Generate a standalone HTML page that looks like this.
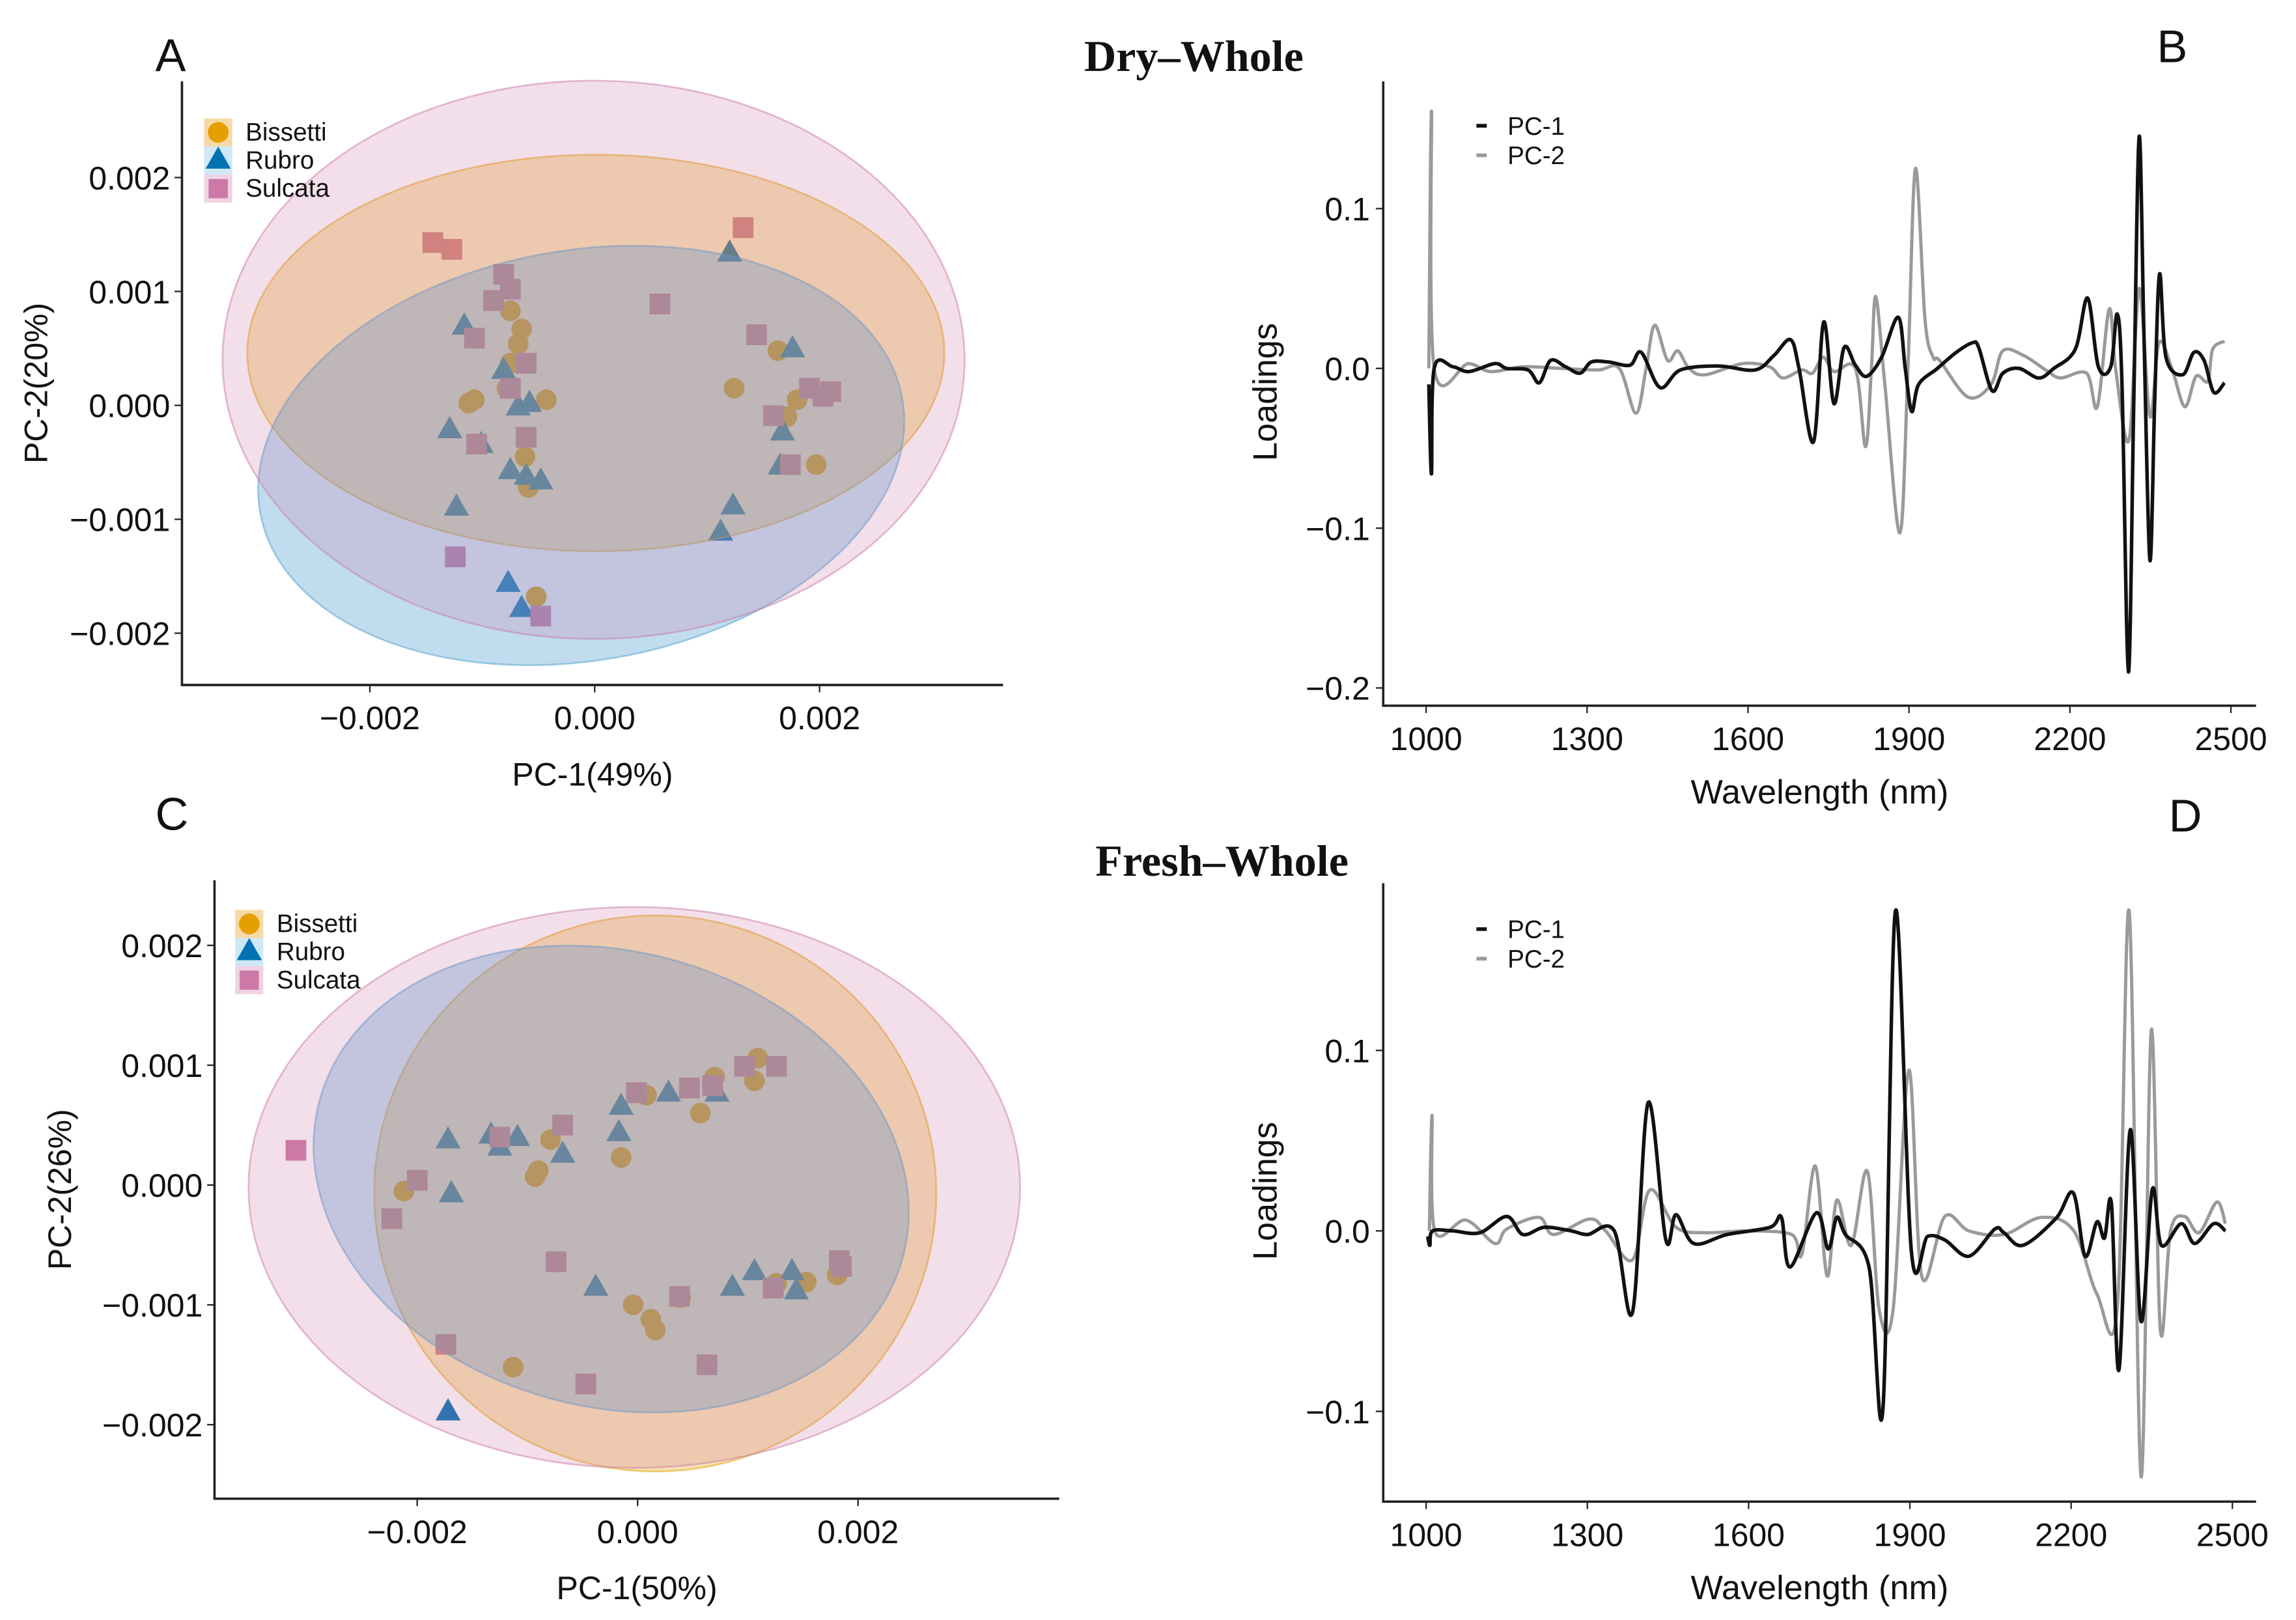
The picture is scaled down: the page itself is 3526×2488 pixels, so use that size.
<!DOCTYPE html>
<html><head><meta charset="utf-8"><style>
html,body{margin:0;padding:0;background:#fff;}
svg{display:block;}
text{font-family:"Liberation Sans",Arial,sans-serif;fill:#111;}
</style></head><body>
<svg id="fig" width="3526" height="2488" viewBox="0 0 1552 1095" preserveAspectRatio="none" xmlns="http://www.w3.org/2000/svg">
<rect width="1552" height="1095" fill="#fff"/>
<text x="105" y="48" font-size="31">A</text>
<text x="1458" y="42" font-size="31">B</text>
<text x="105" y="561" font-size="31">C</text>
<text x="1466" y="562" font-size="31">D</text>
<text x="807" y="48" font-size="30" font-weight="bold" text-anchor="middle" style="font-family:'Liberation Serif',serif">Dry–Whole</text>
<text x="826" y="592" font-size="30" font-weight="bold" text-anchor="middle" style="font-family:'Liberation Serif',serif">Fresh–Whole</text>
<g id="gA"></g><g id="gB"></g><g id="gC"></g><g id="gD"></g>
</svg>
<script>
// ---------- PCA data: Dry-Whole (A) ----------
const aBisX=[-0.00065,-0.00075,-0.00107,-0.00078,-0.00068,-0.00043,-0.00059,-0.00052,0.00163,0.00124,0.0018,0.00197,0.00171,-0.00075,-0.00112,-0.00062];
const aBisY=[0.00067,0.00037,0.00005,0.00015,0.00054,0.00005,-0.00072,-0.00168,0.00048,0.00015,0.00005,-0.00052,-0.0001,0.00083,0.00002,-0.00045];
const aRubX=[-0.00116,-0.00081,-0.00068,-0.00129,-0.00101,-0.00075,-0.00061,-0.00048,-0.00123,-0.00077,-0.00065,0.0012,0.00176,0.00167,0.00165,0.00123,0.00112,-0.00058];
const aRubY=[0.0007,0.00031,-0.00001,-0.00021,-0.00034,-0.00057,-0.00062,-0.00066,-0.00089,-0.00156,-0.00178,0.00134,0.0005,-0.00023,-0.00053,-0.00088,-0.00111,0.00002];
const aSulX=[-0.00144,-0.00127,-0.00081,-0.0009,-0.00075,-0.00107,-0.00061,-0.00075,-0.00105,-0.00061,-0.00124,-0.00048,0.00058,0.00132,0.00144,0.00159,0.00174,0.00191,0.0021,0.00203];
const aSulY=[0.00143,0.00137,0.00115,0.00092,0.00102,0.00059,0.00037,0.00015,-0.00034,-0.00028,-0.00133,-0.00185,0.00089,0.00156,0.00062,-0.00009,-0.00052,0.00015,0.00012,0.00008];
// ellipses: cx, cy, rx, ry (data units), rotation deg
const aEllPink=[-0.00001,0.0004,0.0033,0.00245,0];
const aEllOrange=[0.00001,0.00046,0.0031,0.00174,0];
const aEllBlue=[-0.00012,-0.00044,0.0029,0.0018,-10];
// ---------- PCA data: Fresh-Whole (C) ----------
const cBisX=[-0.00212,-0.00079,-0.00093,-0.00015,0.00008,0.0007,0.00106,0.00109,-0.00004,0.00012,0.00016,0.00039,-0.00113,0.00126,0.00153,0.00181,-0.0009,0.00057];
const cBisY=[-0.00005,0.00038,0.00007,0.00023,0.00075,0.0009,0.00087,0.00106,-0.001,-0.00112,-0.00121,-0.00094,-0.00152,-0.00082,-0.00081,-0.00075,0.00012,0.0006];
const cRubX=[-0.00172,-0.00169,-0.00133,-0.00109,-0.00068,-0.00017,-0.00015,0.00028,0.00072,-0.00038,0.00086,0.00106,0.0014,0.00144,-0.00172,-0.00125];
const cRubY=[0.00038,-0.00007,0.00042,0.0004,0.00026,0.00044,0.00066,0.00077,0.00077,-0.00085,-0.00085,-0.00072,-0.00072,-0.00088,-0.00189,0.00032];
const cSulX=[-0.0031,-0.00223,-0.002,-0.00125,-0.00068,-0.00001,0.00047,0.00068,0.00097,0.00126,-0.00074,-0.00174,-0.00047,0.00063,0.00123,0.00183,0.00038,0.00185];
const cSulY=[0.00029,-0.00028,0.00004,0.0004,0.0005,0.00077,0.00081,0.00083,0.00099,0.00099,-0.00064,-0.00133,-0.00166,-0.0015,-0.00086,-0.00063,-0.00093,-0.00068];
const cEllPink=[-0.00003,-0.00002,0.0035,0.00234,0];
const cEllOrange=[0.00016,-0.00007,0.00255,0.00232,0];
const cEllBlue=[-0.00024,0.00005,0.00274,0.0019,15];
const pcaTicks=[-0.002,-0.001,0,0.001,0.002];
const pcaTickLabels=["−0.002","−0.001","0.000","0.001","0.002"];
// ---------- Loadings: Dry-Whole (B) ----------
const bWl1=[1005,1010,1015,1050,1080,1128,1150,1190,1211,1232,1260,1287,1308,1340,1380,1401,1436,1474,1544,1613,1648,1679,1695,1722,1741,1760,1779,1800,1821,1849,1880,1893,1905,1918,1953,1988,2018,2030,2055,2075,2105,2142,2170,2210,2233,2253,2276,2288,2297,2309,2319,2329,2338,2349,2358,2367,2379,2410,2431,2450,2468,2488];
const bPc1=[-0.01,-0.066,0,0.001,-0.002,0.003,0,-0.001,-0.009,0.005,0.001,-0.003,0.004,0.004,0.002,0.01,-0.012,-0.001,0.0015,-0.001,0.008,0.018,0,-0.046,0.029,-0.022,0.013,0.002,-0.005,0.007,0.032,0,-0.027,-0.01,0,0.01,0.016,0.013,-0.014,-0.003,0,-0.006,0,0.012,0.044,0.001,0.001,0.034,-0.01,-0.19,-0.02,0.145,0.02,-0.12,-0.02,0.059,0.007,-0.004,0.01,0.005,-0.015,-0.009];
const bWl2=[1005,1010,1015,1079,1120,1180,1250,1320,1360,1391,1410,1426,1450,1469,1490,1520,1590,1640,1665,1700,1720,1740,1760,1800,1819,1830,1838,1855,1883,1898,1912,1930,1945,1957,2010,2053,2075,2114,2157,2183,2231,2251,2273,2285,2310,2329,2349,2366,2390,2414,2435,2457,2466,2488];
const bPc2=[0,0.161,0,0.003,-0.002,0.001,0,-0.001,0,-0.028,0,0.027,0.005,0.011,0,-0.004,0.003,0.001,-0.006,-0.001,-0.003,0.007,-0.002,0,-0.049,0,0.045,-0.01,-0.103,0,0.125,0.03,0.007,0.005,-0.018,-0.01,0.011,0.008,-0.0015,-0.006,-0.003,-0.024,0.037,0,-0.045,0.05,-0.03,0.016,0,-0.024,-0.005,-0.008,0.012,0.017];
// ---------- Loadings: Fresh-Whole (D) ----------
const dWl1=[1003,1007,1012,1050,1100,1150,1180,1220,1270,1300,1350,1384,1413,1446,1465,1498,1560,1640,1661,1677,1726,1748,1764,1780,1824,1850,1873,1903,1933,1965,2010,2058,2075,2110,2172,2204,2226,2248,2262,2275,2289,2310,2330,2351,2368,2405,2430,2465,2487];
const dPc1=[-0.003,-0.008,0,0,-0.001,0.008,-0.002,0.002,0,-0.002,0,-0.045,0.071,-0.005,0.009,-0.007,-0.002,0.002,0.0075,-0.02,0.01,-0.01,0.0075,-0.002,-0.02,-0.098,0.177,-0.012,-0.003,-0.005,-0.014,0.001,-0.001,-0.008,0.007,0.021,-0.014,0.005,-0.004,0.015,-0.077,0.056,-0.05,0.023,-0.008,0.004,-0.007,0.004,0];
const dWl2=[1006,1011,1016,1074,1128,1150,1210,1237,1304,1334,1384,1416,1465,1520,1600,1680,1699,1724,1746,1764,1791,1821,1843,1869,1898,1922,1965,2010,2075,2145,2205,2248,2286,2308,2330,2349,2366,2385,2411,2438,2471,2487];
const dPc2=[0,0.064,0,0.006,-0.007,0.001,0.0075,-0.002,0.0066,0,-0.016,0.0226,0.002,-0.001,0,-0.002,-0.013,0.036,-0.025,0.017,-0.008,0.033,-0.044,-0.043,0.089,-0.025,0.008,0,-0.002,0.0075,0,-0.035,-0.042,0.177,-0.136,0.111,-0.055,0,0.008,-0.001,0.016,0.004];
const wlTicks=[1000,1300,1600,1900,2200,2500];
const bYTicks=[0.1,0,-0.1,-0.2];
const bYLabels=["0.1","0.0","−0.1","−0.2"];
const dYTicks=[0.1,0,-0.1];
const dYLabels=["0.1","0.0","−0.1"];

const NS="http://www.w3.org/2000/svg";
function mk(parent,tag,attrs,txt){const e=document.createElementNS(NS,tag);for(const k in attrs)e.setAttribute(k,attrs[k]);if(txt!==undefined)e.textContent=txt;parent.appendChild(e);return e;}
function lin(d0,d1,r0,r1){return v=>r0+(v-d0)*(r1-r0)/(d1-d0);}

function pca(g,cfg){
  const sx=lin(0,0.002,cfg.x0,cfg.x2), sy=lin(0,0.001,cfg.y0,cfg.y1);
  const pts=mk(g,'g',{});
  
  
  cfg.bisX.forEach((v,i)=>{const c=mk(pts,'circle',{cx:sx(v),cy:sy(cfg.bisY[i]),r:7,fill:'#E69F00'});
    
    });
  cfg.rubX.forEach((v,i)=>{const x=sx(v),y=sy(cfg.rubY[i]);const t=mk(pts,'polygon',{points:`${x},${y-9} ${x-8.5},${y+6} ${x+8.5},${y+6}`,fill:'#0072B2'});
    
    });
  cfg.sulX.forEach((v,i)=>{const x=sx(v),y=sy(cfg.sulY[i]);const s=mk(pts,'rect',{x:x-7,y:y-7,width:14,height:14,fill:'#CC79A7'});
    
    });
  const ells=[[cfg.eOrange,'#E69F00',0.3,'ellipse-bissetti'],[cfg.eBlue,'#4F9FD0',0.36,'ellipse-rubro'],[cfg.ePink,'#CC79A7',0.24,'ellipse-sulcata']];
  ells.forEach(([e,col,op,name])=>{const cx=sx(e[0]),cy=sy(e[1]);
    const el=mk(g,'ellipse',{cx:cx,cy:cy,rx:Math.abs(sx(e[2])-sx(0)),ry:Math.abs(sy(e[3])-sy(0)),fill:col,'fill-opacity':op,stroke:col,'stroke-opacity':0.5,'stroke-width':1.2,transform:`rotate(${e[4]} ${cx} ${cy})`});
    
    });
  mk(g,'path',{d:`M${cfg.left},${cfg.top}V${cfg.bottom}H${cfg.right}`,fill:'none',stroke:'#222','stroke-width':1.6});
  pcaTicks.forEach((t,i)=>{
    if(Math.abs(t)>0.0015||t===0){const x=sx(t);mk(g,'line',{x1:x,x2:x,y1:cfg.bottom,y2:cfg.bottom+5,stroke:'#222'});
      const lb=mk(g,'text',{x:x,y:cfg.bottom+30,'font-size':22,'text-anchor':'middle'},pcaTickLabels[i]);
      
      }
    const y=sy(t);mk(g,'line',{x1:cfg.left-5,x2:cfg.left,y1:y,y2:y,stroke:'#222'});
    const ly=mk(g,'text',{x:cfg.left-8,y:y+8,'font-size':22,'text-anchor':'end'},pcaTickLabels[i]);
    
    
  });
  const xt=mk(g,'text',{x:(cfg.left+cfg.right)/2,y:cfg.bottom+68,'font-size':22,'text-anchor':'middle'},cfg.xTitle);
  
  
  const yt=mk(g,'text',{x:0,y:0,'font-size':22,'text-anchor':'middle',transform:`translate(${cfg.yTitleX},${(cfg.top+cfg.bottom)/2}) rotate(-90)`},cfg.yTitle);
  
  
  const lg=mk(g,'g',{});
  
  
  const L=cfg.leg, names=['Bissetti','Rubro','Sulcata'];
  names.forEach((n,i)=>{const y=L.y+i*19;
    const cols=[['#F6D9A8','#E69F00'],['#CFE8F5','#0072B2'],['#EFD3E3','#CC79A7']][i];
    mk(lg,'rect',{x:L.x,y:y-9,width:19,height:19,fill:cols[0]});
    if(i===0)mk(lg,'circle',{cx:L.x+9.5,cy:y+0.5,r:7,fill:cols[1]});
    if(i===1)mk(lg,'polygon',{points:`${L.x+9.5},${y-9} ${L.x+1},${y+6} ${L.x+18},${y+6}`,fill:cols[1]});
    if(i===2)mk(lg,'rect',{x:L.x+3,y:y-6,width:13,height:13,fill:cols[1]});
    const t=mk(lg,'text',{x:L.x+28,y:y+6,'font-size':17},n);
    
    
  });
}

function crPath(pts){let d=`M${pts[0][0]},${pts[0][1]}`;
  for(let i=0;i<pts.length-1;i++){const p0=pts[i-1]||pts[i],p1=pts[i],p2=pts[i+1],p3=pts[i+2]||p2;
    const c1=[p1[0]+(p2[0]-p0[0])/6,p1[1]+(p2[1]-p0[1])/6],c2=[p2[0]-(p3[0]-p1[0])/6,p2[1]-(p3[1]-p1[1])/6];
    d+=`C${c1[0]},${c1[1]} ${c2[0]},${c2[1]} ${p2[0]},${p2[1]}`;}
  return d;}

function load(g,cfg){
  const sx=lin(1000,2500,cfg.x1000,cfg.x2500), sy=lin(0,0.1,cfg.y0,cfg.y01);
  mk(g,'path',{d:`M${cfg.left},${cfg.top}V${cfg.bottom}H${cfg.right}`,fill:'none',stroke:'#222','stroke-width':1.6});
  wlTicks.forEach(t=>{const x=sx(t);mk(g,'line',{x1:x,x2:x,y1:cfg.bottom,y2:cfg.bottom+5,stroke:'#222'});
    const lb=mk(g,'text',{x:x,y:cfg.bottom+30,'font-size':22,'text-anchor':'middle'},String(t));
    
    });
  cfg.yTicks.forEach((t,i)=>{const y=sy(t);mk(g,'line',{x1:cfg.left-5,x2:cfg.left,y1:y,y2:y,stroke:'#222'});
    const lb=mk(g,'text',{x:cfg.left-9,y:y+8,'font-size':22,'text-anchor':'end'},cfg.yLabels[i]);
    
    });
  const xt=mk(g,'text',{x:(cfg.left+cfg.right)/2,y:cfg.bottom+66,'font-size':23,'text-anchor':'middle'},'Wavelength (nm)');
  
  
  const yt=mk(g,'text',{x:0,y:0,'font-size':23,'text-anchor':'middle',transform:`translate(${cfg.left-72},${cfg.yTitleY}) rotate(-90)`},'Loadings');
  
  
  const l2=mk(g,'path',{d:crPath(cfg.wl2.map((w,i)=>[sx(w),sy(cfg.v2[i])])),fill:'none',stroke:'#9a9a9a','stroke-width':2.2,'stroke-linejoin':'round'});
  
  
  const l1=mk(g,'path',{d:crPath(cfg.wl1.map((w,i)=>[sx(w),sy(cfg.v1[i])])),fill:'none',stroke:'#111','stroke-width':2.4,'stroke-linejoin':'round'});
  
  
  const lg=mk(g,'g',{});
  
  
  [['PC-1','#111'],['PC-2','#9a9a9a']].forEach(([n,c],i)=>{const y=cfg.legY+i*20;
    mk(lg,'line',{x1:998,x2:1005,y1:y,y2:y,stroke:c,'stroke-width':2.5});
    const t=mk(lg,'text',{x:1019,y:y+6,'font-size':17},n);
    
    });
}

pca(document.getElementById('gA'),{x0:402,x2:554,y0:274,y1:197,left:123,right:678,top:55,bottom:463,
  bisX:aBisX,bisY:aBisY,rubX:aRubX,rubY:aRubY,sulX:aSulX,sulY:aSulY,ePink:aEllPink,eOrange:aEllOrange,eBlue:aEllBlue,
  xTitle:'PC-1(49%)',yTitle:'PC-2(20%)',yTitleX:32,leg:{x:138,y:89}});
pca(document.getElementById('gC'),{x0:431,x2:580,y0:801,y1:720,left:145,right:716,top:595,bottom:1013,
  bisX:cBisX,bisY:cBisY,rubX:cRubX,rubY:cRubY,sulX:cSulX,sulY:cSulY,ePink:cEllPink,eOrange:cEllOrange,eBlue:cEllBlue,
  xTitle:'PC-1(50%)',yTitle:'PC-2(26%)',yTitleX:48,leg:{x:159,y:624}});
load(document.getElementById('gB'),{x1000:964,x2500:1508,y0:249,y01:141,left:935,right:1525,top:55,bottom:477,
  wl1:bWl1,v1:bPc1,wl2:bWl2,v2:bPc2,yTicks:bYTicks,yLabels:bYLabels,yTitleY:265,legY:85});
load(document.getElementById('gD'),{x1000:964,x2500:1509,y0:832,y01:710,left:935,right:1525,top:597,bottom:1015,
  wl1:dWl1,v1:dPc1,wl2:dWl2,v2:dPc2,yTicks:dYTicks,yLabels:dYLabels,yTitleY:805,legY:628});
</script>
</body></html>
